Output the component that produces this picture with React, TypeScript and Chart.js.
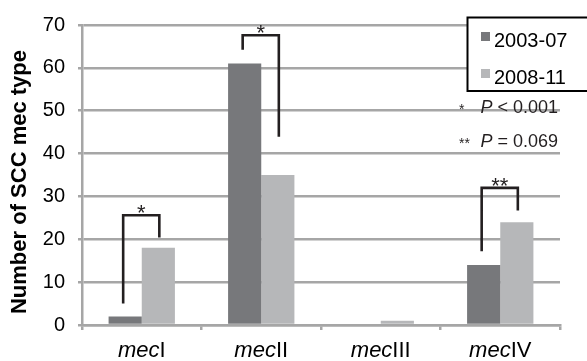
import React, { useEffect, useRef } from "react";
import { Chart, registerables } from "chart.js";

Chart.register(...registerables);

const categoryPrefix = "mec";
const categories = ["I", "II", "III", "IV"];
const seriesLabels = ["2003-07", "2008-11"];
const series2003 = [2, 61, 0, 14];
const series2008 = [18, 35, 1, 24];
const seriesColors = ["#77787b", "#b6b7b9"];
const yMax = 70;
const yStep = 10;
const yTitle = "Number of SCC mec type";

// significance brackets per category: left leg bottom, top, right leg bottom, mark
const bracketLeft = [5, 64.2, null, 17.2];
const bracketTop = [25.6, 67.6, null, 32];
const bracketRight = [20.4, 43.9, null, 26.7];
const bracketMarks = ["*", "*", "", "**"];

const noteMarks = ["*", "**"];
const noteOps = ["< 0.001", "= 0.069"];

const FONT = "'Liberation Sans', Arial, Helvetica, sans-serif";

const overlayPlugin = {
  id: "overlay",
  afterDatasetsDraw(chart: any) {
    const ctx = chart.ctx;
    const ys = chart.scales.y;
    const m0 = chart.getDatasetMeta(0);
    const m1 = chart.getDatasetMeta(1);
    ctx.save();
    ctx.strokeStyle = "#231f20";
    ctx.lineWidth = 2.6;
    ctx.lineCap = "butt";
    ctx.lineJoin = "miter";
    for (let i = 0; i < categories.length; i++) {
      if (bracketTop[i] == null) continue;
      const xl = m0.data[i].x - 2;
      const xr = m1.data[i].x + 1;
      const yl = ys.getPixelForValue(bracketLeft[i]);
      const yt = ys.getPixelForValue(bracketTop[i]);
      const yr = ys.getPixelForValue(bracketRight[i]);
      ctx.beginPath();
      ctx.moveTo(xl, yl);
      ctx.lineTo(xl, yt);
      ctx.lineTo(xr, yt);
      ctx.lineTo(xr, yr);
      ctx.stroke();
      ctx.fillStyle = "#231f20";
      ctx.font = `22px ${FONT}`;
      ctx.textAlign = "center";
      ctx.textBaseline = "alphabetic";
      ctx.fillText(bracketMarks[i], (xl + xr) / 2, yt + 5);
    }
    const noteBaselines = [113, 147];
    const rightEdge = 558;
    for (let k = 0; k < noteMarks.length; k++) {
      const by = noteBaselines[k];
      ctx.fillStyle = "#231f20";
      ctx.textBaseline = "alphabetic";
      ctx.font = `18px ${FONT}`;
      ctx.textAlign = "right";
      const rest = " " + noteOps[k];
      ctx.fillText(rest, rightEdge, by);
      const wRest = ctx.measureText(rest).width;
      ctx.font = `italic 18px ${FONT}`;
      ctx.fillText("P", rightEdge - wRest, by);
      ctx.font = `14px ${FONT}`;
      ctx.textAlign = "left";
      ctx.fillText(noteMarks[k], 459, by + 1);
    }
    ctx.restore();
  },
  afterDraw(chart: any) {
    const ctx = chart.ctx;
    const xs = chart.scales.x;
    ctx.save();
    ctx.fillStyle = "#000";
    ctx.textBaseline = "alphabetic";
    ctx.textAlign = "left";
    for (let i = 0; i < categories.length; i++) {
      const cx = xs.getPixelForValue(i);
      ctx.font = `italic 22px ${FONT}`;
      const w1 = ctx.measureText(categoryPrefix).width;
      ctx.font = `22px ${FONT}`;
      const w2 = ctx.measureText(categories[i]).width;
      const x0 = cx - (w1 + w2) / 2;
      ctx.font = `italic 22px ${FONT}`;
      ctx.fillText(categoryPrefix, x0, 357);
      ctx.font = `22px ${FONT}`;
      ctx.fillText(categories[i], x0 + w1, 357);
    }
    ctx.save();
    ctx.translate(20, 182);
    ctx.rotate(-Math.PI / 2);
    ctx.font = `bold 22px ${FONT}`;
    ctx.textAlign = "center";
    ctx.textBaseline = "middle";
    ctx.fillText(yTitle, 0, 0);
    ctx.restore();
    const lx = 467.5, ly = 17.5, lw = 130, lh = 73.5;
    ctx.fillStyle = "#fff";
    ctx.fillRect(lx, ly, lw, lh);
    ctx.strokeStyle = "#000";
    ctx.lineWidth = 2;
    ctx.strokeRect(lx, ly, lw, lh);
    const rows = [47, 84];
    chart.data.datasets.forEach((ds: any, i: number) => {
      ctx.fillStyle = ds.backgroundColor;
      ctx.fillRect(481, rows[i] - 15, 9, 9);
      ctx.fillStyle = "#000";
      ctx.font = `20px ${FONT}`;
      ctx.textAlign = "left";
      ctx.textBaseline = "alphabetic";
      ctx.fillText(ds.label, 494, rows[i]);
    });
    ctx.restore();
  },
};

export default function App() {
  const ref = useRef<HTMLCanvasElement | null>(null);
  useEffect(() => {
    if (!ref.current) return;
    const chart = new Chart(ref.current, {
      type: "bar",
      data: {
        labels: categories.map((c) => categoryPrefix + c),
        datasets: [
          { label: seriesLabels[0], data: series2003, backgroundColor: seriesColors[0] },
          { label: seriesLabels[1], data: series2008, backgroundColor: seriesColors[1] },
        ],
      },
      options: {
        animation: false,
        responsive: false,
        maintainAspectRatio: false,
        devicePixelRatio: 1,
        layout: { padding: { top: 15, right: 27, left: 0, bottom: 0 } },
        plugins: { legend: { display: false }, tooltip: { enabled: false }, title: { display: false } },
        datasets: { bar: { categoryPercentage: 0.555, barPercentage: 1 } },
        scales: {
          x: {
            afterFit: (s: any) => { s.height = 36; },
            ticks: { display: false },
            grid: { drawOnChartArea: false, drawTicks: true, tickLength: 5, color: "#a6a6a6", lineWidth: 2.5, offset: true },
            border: { display: true, color: "#a6a6a6", width: 2.5 },
          },
          y: {
            min: 0,
            max: yMax,
            afterFit: (s: any) => { s.width = 82; },
            ticks: { stepSize: yStep, color: "#000", font: { family: FONT, size: 20 }, padding: 13 },
            grid: { color: "#a6a6a6", lineWidth: 2.5, tickLength: 4 },
            border: { display: true, color: "#a6a6a6", width: 2.5 },
          },
        },
      },
      plugins: [overlayPlugin],
    });
    return () => chart.destroy();
  }, []);
  return (
    <div style={{ position: "fixed", left: 0, top: 0, width: 587, height: 361, background: "#fff" }}>
      <canvas ref={ref} width={587} height={361} style={{ width: 587, height: 361, display: "block" }} />
    </div>
  );
}
